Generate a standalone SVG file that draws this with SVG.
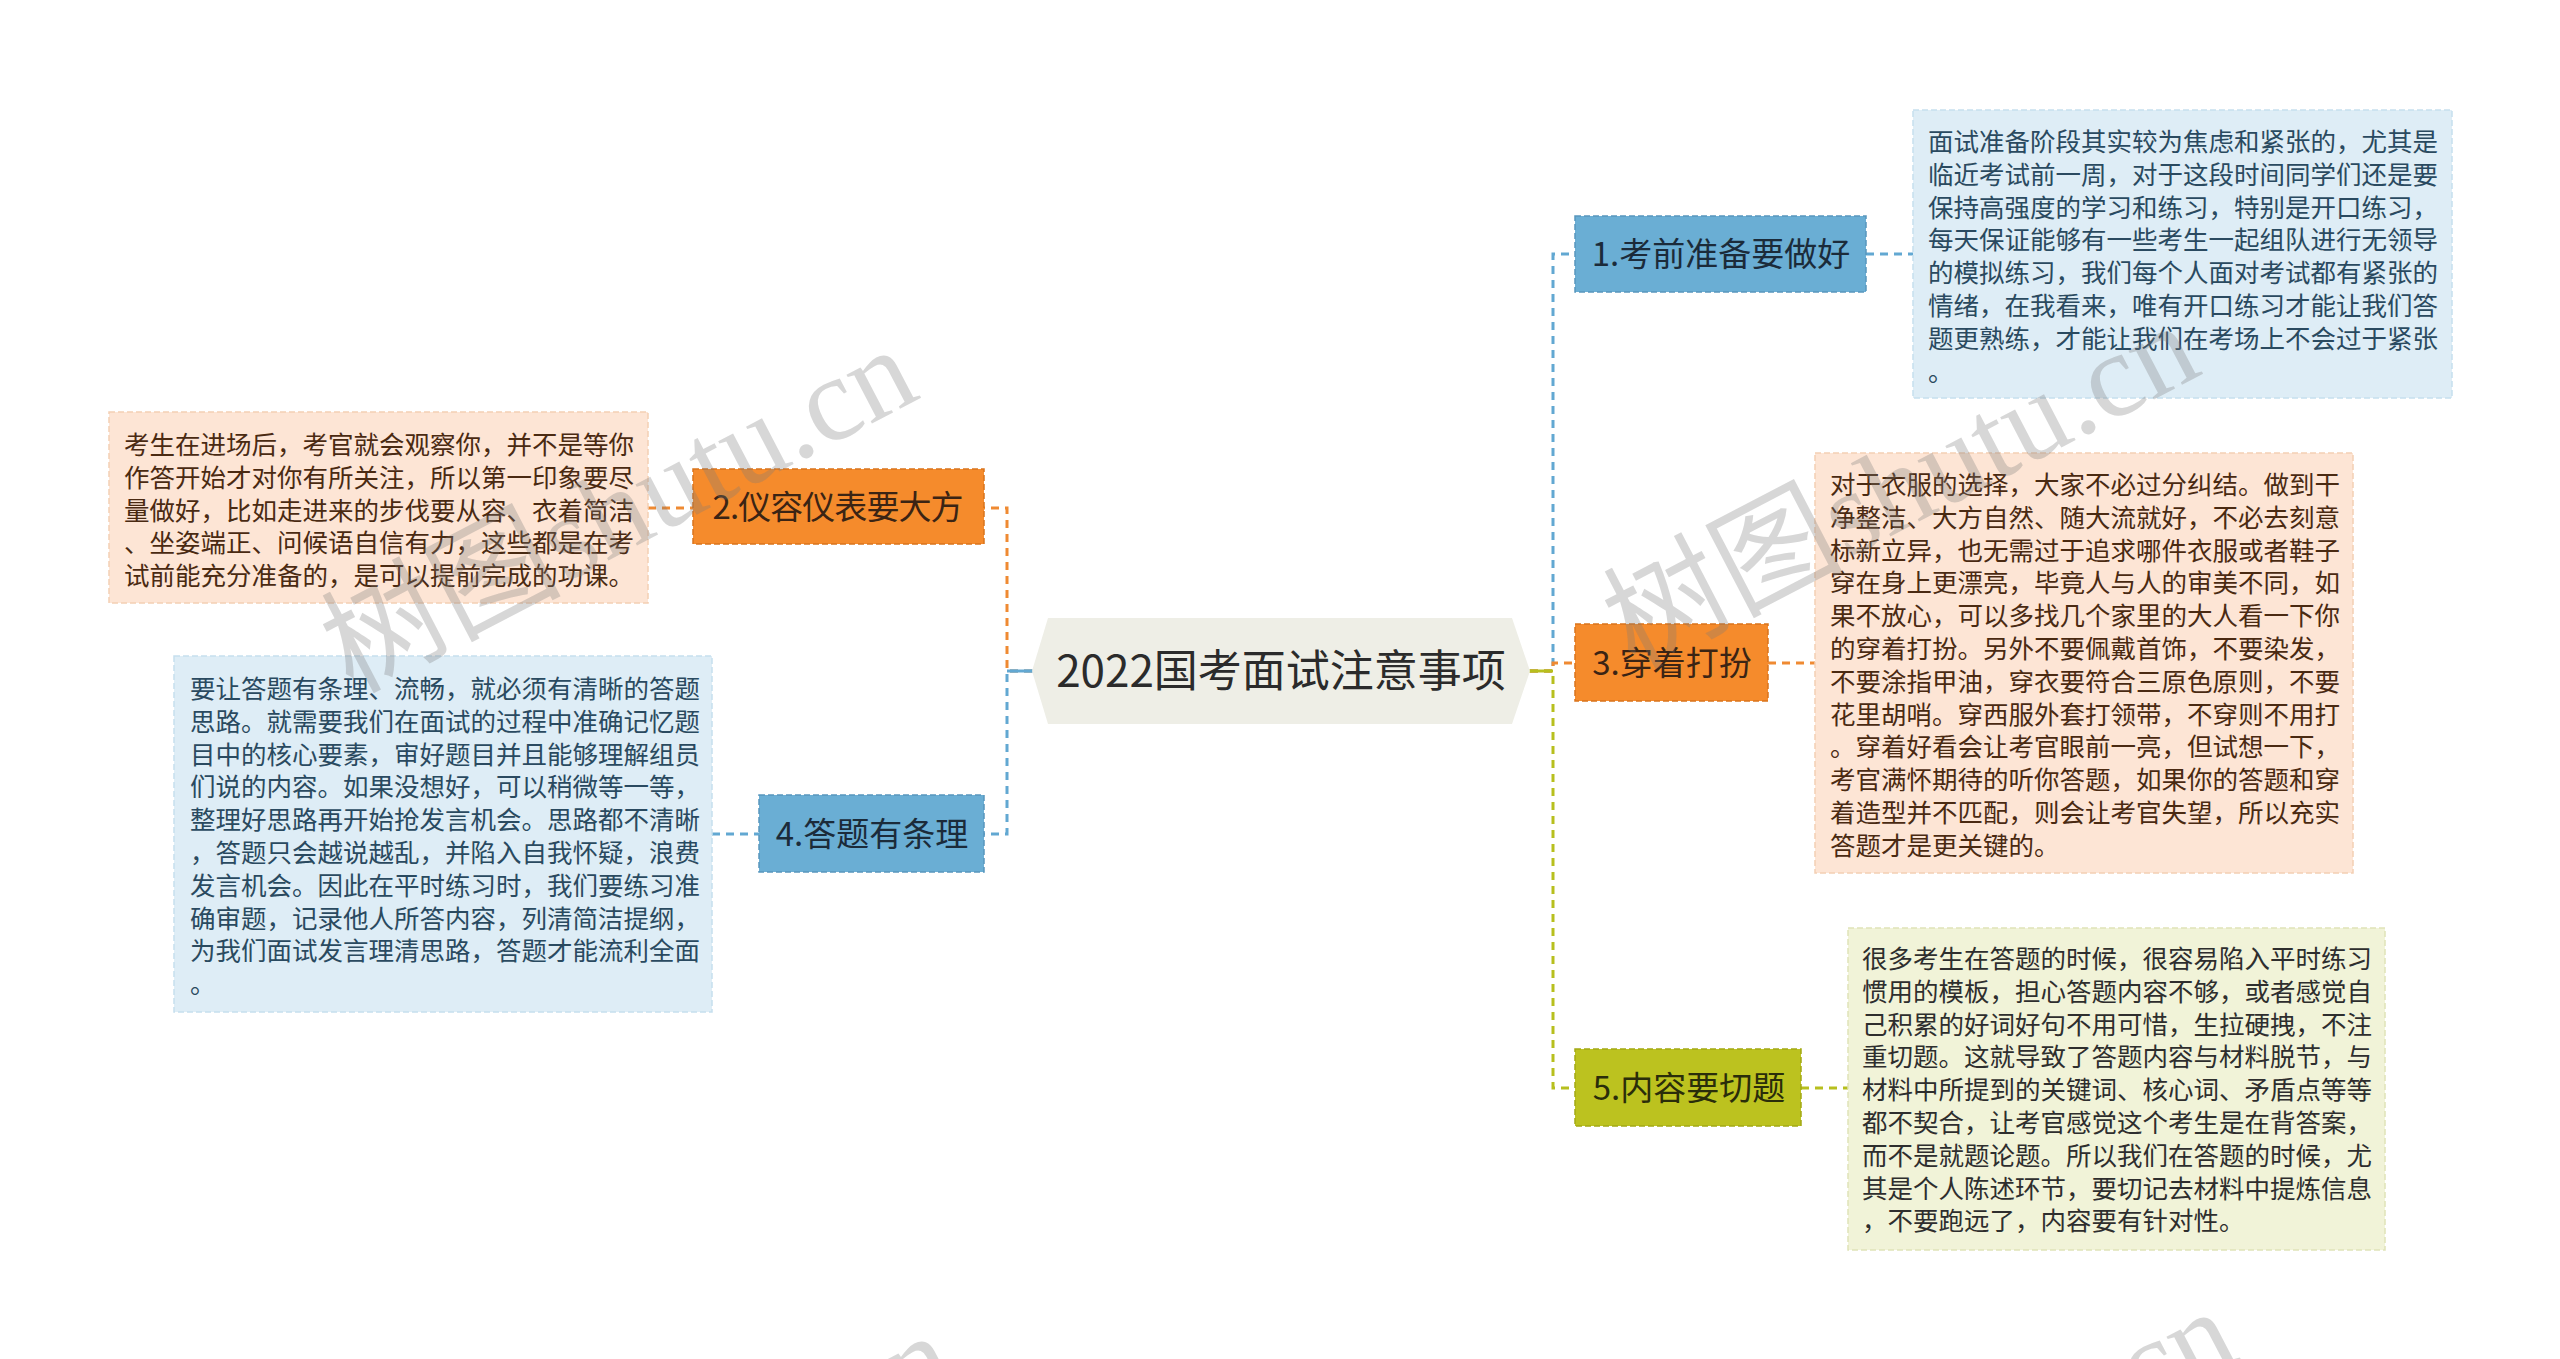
<svg xmlns="http://www.w3.org/2000/svg" width="2560" height="1359" viewBox="0 0 2560 1359">
<style>
.cjk{font-family:"Noto Sans CJK SC","Microsoft YaHei","Noto Sans",sans-serif}
.body{font-size:25.5px}
.topic{font-size:33px;text-anchor:middle}
.conn{fill:none;stroke-width:3;stroke-dasharray:8 6}
.solid{fill:none;stroke-width:3}
.blue{stroke:#62a8d2}
.orange{stroke:#ef8a32}
.green{stroke:#b7bf1e}
.tb{fill:#6aaed4;stroke:#5897bd;stroke-width:1.5;stroke-dasharray:6 3}
.to{fill:#f58b2c;stroke:#d9741c;stroke-width:1.5;stroke-dasharray:6 3}
.tg{fill:#bcc21f;stroke:#a3a914;stroke-width:1.5;stroke-dasharray:6 3}
.db{fill:#deedf6;stroke:#c6dfee;stroke-width:1.5;stroke-dasharray:6 3}
.dp{fill:#fde5d5;stroke:#f4cfb4;stroke-width:1.5;stroke-dasharray:6 3}
.dg{fill:#f1f3d8;stroke:#dfe3b8;stroke-width:1.5;stroke-dasharray:6 3}
.txb{fill:#2a4a60}
.txp{fill:#4a2a12}
.txg{fill:#2e2e2e}
.wm{font-family:"Liberation Serif","Noto Sans CJK SC",serif;font-size:120px;fill:#7a7a7a;fill-opacity:0.3}
</style>
<rect width="2560" height="1359" fill="#ffffff"/>

<g id="connectors">
  <path class="conn blue" d="M1530,671 H1553 V254 H1576"/>
  <path class="conn green" d="M1530,671 H1553 V1088 H1576"/>
  <path class="conn orange" d="M1530,671 H1553 V663 H1574"/>
  <path class="solid green" d="M1528,671 H1553"/>
  <path class="conn orange" d="M1032,671 H1007 V508 H984"/>
  <path class="conn blue" d="M1032,671 H1007 V834 H984"/>
  <path class="solid blue" d="M1007,671 H1034"/>
  <path class="conn blue" d="M1866,254 H1913"/>
  <path class="conn orange" d="M1768,663 H1815"/>
  <path class="conn green" d="M1801,1088 H1848"/>
  <path class="conn orange" d="M648,508 H693"/>
  <path class="conn blue" d="M712,834 H759"/>
</g>

<g id="center">
  <polygon points="1032,671 1048,618 1512,618 1530,671 1512,724 1048,724" fill="#eeeee6"/>
  <text class="cjk" x="1281" y="687" font-size="44" text-anchor="middle" fill="#2b2b2b">2022国考面试注意事项</text>
</g>

<g id="topic1">
  <rect class="tb" x="1575" y="216" width="291" height="76"/>
  <text class="cjk topic" x="1721" y="266" fill="#1b2b3a">1.考前准备要做好</text>
</g>
<g id="topic3">
  <rect class="to" x="1575" y="624" width="193" height="77"/>
  <text class="cjk topic" x="1672" y="675" fill="#3b2414">3.穿着打扮</text>
</g>
<g id="topic5">
  <rect class="tg" x="1575" y="1049" width="226" height="77"/>
  <text class="cjk topic" x="1689" y="1100" fill="#2a2d0a">5.内容要切题</text>
</g>
<g id="topic2">
  <rect class="to" x="693" y="469" width="291" height="75"/>
  <text class="cjk topic" x="838" y="519" fill="#3b2414" textLength="251" lengthAdjust="spacing">2.仪容仪表要大方</text>
</g>
<g id="topic4">
  <rect class="tb" x="759" y="795" width="225" height="77"/>
  <text class="cjk topic" x="872" y="846" fill="#1b2b3a">4.答题有条理</text>
</g>

<g id="detail1">
  <rect class="db" x="1913" y="110" width="539" height="288"/>
  <text class="cjk body txb" x="1928">
    <tspan x="1928" y="151">面试准备阶段其实较为焦虑和紧张的，尤其是</tspan>
    <tspan x="1928" y="183.8">临近考试前一周，对于这段时间同学们还是要</tspan>
    <tspan x="1928" y="216.6">保持高强度的学习和练习，特别是开口练习，</tspan>
    <tspan x="1928" y="249.4">每天保证能够有一些考生一起组队进行无领导</tspan>
    <tspan x="1928" y="282.2">的模拟练习，我们每个人面对考试都有紧张的</tspan>
    <tspan x="1928" y="315">情绪，在我看来，唯有开口练习才能让我们答</tspan>
    <tspan x="1928" y="347.8">题更熟练，才能让我们在考场上不会过于紧张</tspan>
    <tspan x="1928" y="380.6">。</tspan>
  </text>
</g>

<g id="detail3">
  <rect class="dp" x="1815" y="453" width="538" height="420"/>
  <text class="cjk body txp">
    <tspan x="1830" y="494">对于衣服的选择，大家不必过分纠结。做到干</tspan>
    <tspan x="1830" y="526.8">净整洁、大方自然、随大流就好，不必去刻意</tspan>
    <tspan x="1830" y="559.6">标新立异，也无需过于追求哪件衣服或者鞋子</tspan>
    <tspan x="1830" y="592.4">穿在身上更漂亮，毕竟人与人的审美不同，如</tspan>
    <tspan x="1830" y="625.2">果不放心，可以多找几个家里的大人看一下你</tspan>
    <tspan x="1830" y="658">的穿着打扮。另外不要佩戴首饰，不要染发，</tspan>
    <tspan x="1830" y="690.8">不要涂指甲油，穿衣要符合三原色原则，不要</tspan>
    <tspan x="1830" y="723.6">花里胡哨。穿西服外套打领带，不穿则不用打</tspan>
    <tspan x="1830" y="756.4">。穿着好看会让考官眼前一亮，但试想一下，</tspan>
    <tspan x="1830" y="789.2">考官满怀期待的听你答题，如果你的答题和穿</tspan>
    <tspan x="1830" y="822">着造型并不匹配，则会让考官失望，所以充实</tspan>
    <tspan x="1830" y="854.8">答题才是更关键的。</tspan>
  </text>
</g>

<g id="detail5">
  <rect class="dg" x="1848" y="928" width="537" height="322"/>
  <text class="cjk body txg">
    <tspan x="1862" y="968">很多考生在答题的时候，很容易陷入平时练习</tspan>
    <tspan x="1862" y="1000.8">惯用的模板，担心答题内容不够，或者感觉自</tspan>
    <tspan x="1862" y="1033.6">己积累的好词好句不用可惜，生拉硬拽，不注</tspan>
    <tspan x="1862" y="1066.4">重切题。这就导致了答题内容与材料脱节，与</tspan>
    <tspan x="1862" y="1099.2">材料中所提到的关键词、核心词、矛盾点等等</tspan>
    <tspan x="1862" y="1132">都不契合，让考官感觉这个考生是在背答案，</tspan>
    <tspan x="1862" y="1164.8">而不是就题论题。所以我们在答题的时候，尤</tspan>
    <tspan x="1862" y="1197.6">其是个人陈述环节，要切记去材料中提炼信息</tspan>
    <tspan x="1862" y="1230.4">，不要跑远了，内容要有针对性。</tspan>
  </text>
</g>

<g id="detail2">
  <rect class="dp" x="109" y="412" width="539" height="191"/>
  <text class="cjk body txp">
    <tspan x="124" y="454">考生在进场后，考官就会观察你，并不是等你</tspan>
    <tspan x="124" y="486.8">作答开始才对你有所关注，所以第一印象要尽</tspan>
    <tspan x="124" y="519.6">量做好，比如走进来的步伐要从容、衣着简洁</tspan>
    <tspan x="124" y="552.4">、坐姿端正、问候语自信有力，这些都是在考</tspan>
    <tspan x="124" y="585.2">试前能充分准备的，是可以提前完成的功课。</tspan>
  </text>
</g>

<g id="detail4">
  <rect class="db" x="174" y="656" width="538" height="356"/>
  <text class="cjk body txb">
    <tspan x="190" y="698">要让答题有条理、流畅，就必须有清晰的答题</tspan>
    <tspan x="190" y="730.8">思路。就需要我们在面试的过程中准确记忆题</tspan>
    <tspan x="190" y="763.6">目中的核心要素，审好题目并且能够理解组员</tspan>
    <tspan x="190" y="796.4">们说的内容。如果没想好，可以稍微等一等，</tspan>
    <tspan x="190" y="829.2">整理好思路再开始抢发言机会。思路都不清晰</tspan>
    <tspan x="190" y="862">，答题只会越说越乱，并陷入自我怀疑，浪费</tspan>
    <tspan x="190" y="894.8">发言机会。因此在平时练习时，我们要练习准</tspan>
    <tspan x="190" y="927.6">确审题，记录他人所答内容，列清简洁提纲，</tspan>
    <tspan x="190" y="960.4">为我们面试发言理清思路，答题才能流利全面</tspan>
    <tspan x="190" y="993.2">。</tspan>
  </text>
</g>

<g id="watermarks">
  <text class="wm" transform="translate(352,694) rotate(-27.5)">树图shutu.cn</text>
  <text class="wm" transform="translate(1634,670) rotate(-27.5)">树图shutu.cn</text>
  <text class="wm" transform="translate(390,1680) rotate(-27.5)">树图shutu.cn</text>
  <text class="wm" transform="translate(1672,1656) rotate(-27.5)">树图shutu.cn</text>
</g>
</svg>
